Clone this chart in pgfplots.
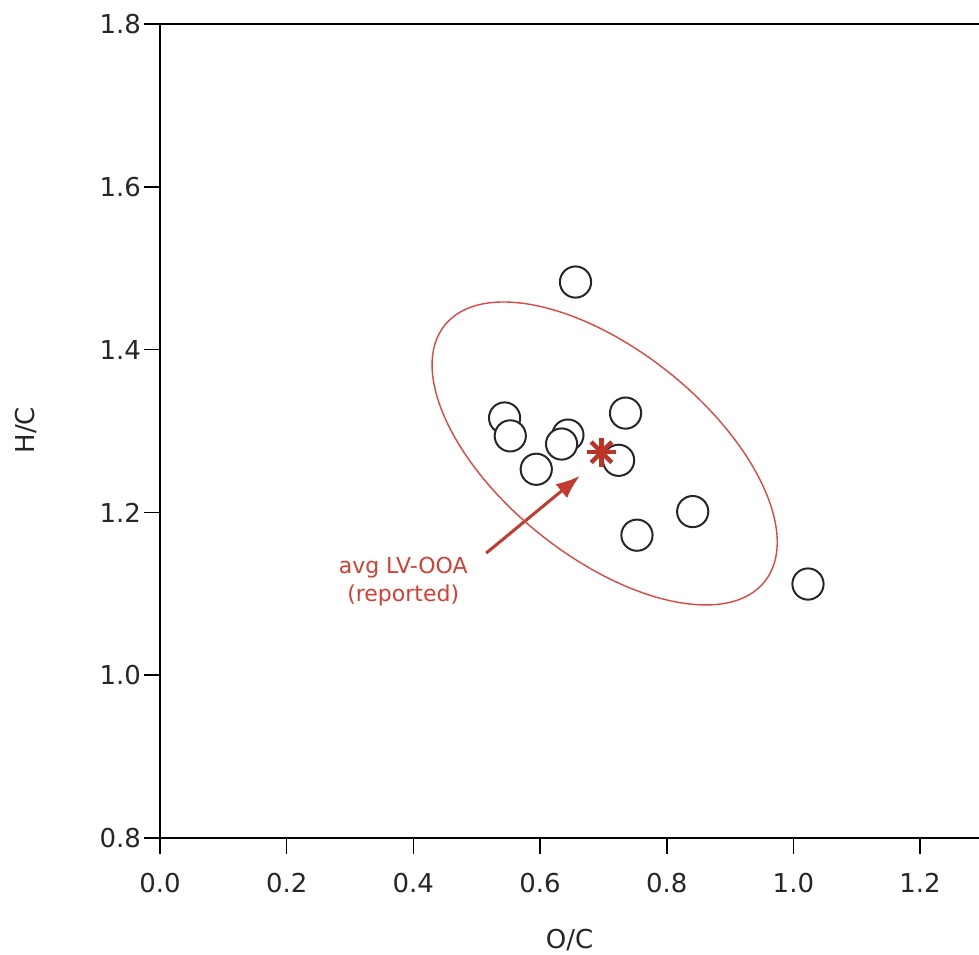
\documentclass[border=0pt]{standalone}
\usepackage{pgfplots}
\pgfplotsset{compat=1.18}
\usepackage{fontspec}
\setmainfont{DejaVu Sans}
\usetikzlibrary{arrows.meta}

\definecolor{ellred}{RGB}{222,70,66}
\definecolor{starred}{RGB}{186,52,40}
\definecolor{arrowred}{RGB}{196,58,46}
\definecolor{textred}{RGB}{214,62,52}

\begin{document}
\begin{tikzpicture}
\begin{axis}[
  name=ax,
  scale only axis,
  width=409.5pt, height=407pt,
  xmin=0, xmax=1.293, ymin=0.8, ymax=1.8,
  axis x line*=box, axis y line*=left,
  xtick={0,0.2,0.4,0.6,0.8,1.0,1.2},
  ytick={0.8,1.0,1.2,1.4,1.6,1.8},
  tick pos=left,
  tick align=outside,
  major tick length=8pt,
  tick style={line width=0.8pt, black},
  axis line style={line width=0.8pt, black},
  /pgf/number format/assume math mode=true,
  xticklabel style={yshift=-6pt, /pgf/number format/.cd, fixed, fixed zerofill, precision=1},
  yticklabel style={xshift=2pt, /pgf/number format/.cd, fixed, fixed zerofill, precision=1},
  ticklabel style={font=\fontsize{13}{15}\selectfont, text=black!85},
  label style={font=\fontsize{13}{15}\selectfont, text=black!85},
  xlabel={O/C}, ylabel={H/C},
  xlabel style={at={(axis description cs:0.5,-0.125)}, anchor=center},
  ylabel style={at={(axis description cs:-0.164,0.501)}, anchor=center},
  clip=false,
]
\coordinate (ec) at (axis cs:0.702,1.2724);

% individual LV-OOA factors
\addplot[only marks, mark=*, mark size=7.8pt,
  mark options={draw=black!85, fill=white, line width=1pt}]
  coordinates {
    (0.656,1.483)
    (0.544,1.316)
    (0.553,1.294)
    (0.644,1.295)
    (0.634,1.284)
    (0.594,1.253)
    (0.735,1.322)
    (0.724,1.264)
    (0.841,1.201)
    (0.753,1.172)
    (1.023,1.112)
  };

% reported average
\addplot[only marks, mark=+, mark size=7.3pt, line width=2.2pt, starred]
  coordinates {(0.697,1.274)};
\addplot[only marks, mark=x, mark size=7.3pt, line width=2.2pt, starred]
  coordinates {(0.697,1.274)};

\draw[arrowred, line width=1.5pt, -{Latex[length=12pt, width=9pt]}]
  (axis cs:0.515,1.150) -- (axis cs:0.663,1.245);
\node[text=textred, align=center, font=\fontsize{11}{14}\selectfont]
  at (axis cs:0.384,1.1145) {avg LV-OOA\\(reported)};
\end{axis}
% one-sigma spread of the factor solutions
\draw[ellred, line width=0.7pt, shift={(ec)}, rotate=-38.7]
  (0,0) ellipse [x radius=102.5pt, y radius=51.7pt];
\pgfresetboundingbox
\path[use as bounding box] ([shift={(-80pt,-58pt)}]ax.south west) rectangle ([shift={(0pt,12pt)}]ax.north east);
\end{tikzpicture}
\end{document}
